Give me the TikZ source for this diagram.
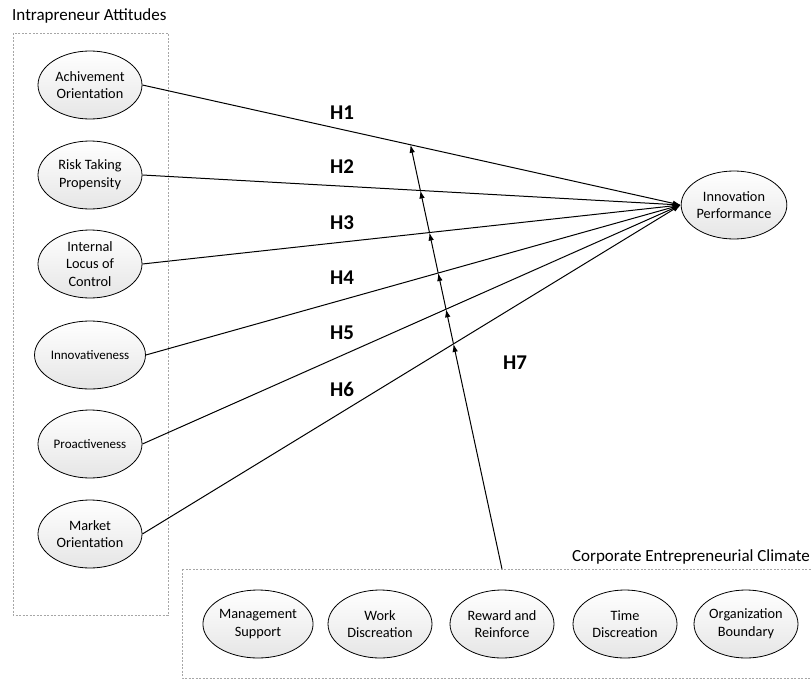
\documentclass[tikz,border=0pt]{standalone}
\usepackage{fontspec}
\setmainfont{Carlito}
\usetikzlibrary{shapes.geometric,arrows.meta}

\begin{document}
\begin{tikzpicture}[x=1pt,y=-1pt,
    var/.style={ellipse,draw,line width=0.8pt,top color=white,bottom color=black!10,
      minimum width=104pt,minimum height=68pt,inner sep=0pt,align=center,
      font=\fontsize{14.3}{17.7}\selectfont},
    small/.style={font=\fontsize{13}{16}\selectfont},
    hyp/.style={-{Latex[length=8pt,width=5.5pt]},line width=1pt},
    grp/.style={draw=black!35,line width=0.5pt,dash pattern=on 2pt off 1.5pt},
    grptitle/.style={inner sep=0pt,font=\fontsize{17}{17}\selectfont},
    hlabel/.style={font=\fontsize{21}{21}\selectfont\bfseries}]
  \useasboundingbox (0,0) rectangle (811,680);
  \draw[grp] (13,33) rectangle (168,615);
  \draw[grp] (182,569) rectangle (830,678);
  \node[grptitle,anchor=west] (ia) at (12,16) {Intrapreneur Attitudes};
  \node[grptitle,anchor=east] (cec) at (810,557) {Corporate Entrepreneurial Climate};

  \node[var] (ao) at (90,85) {Achivement\\Orientation};
  \node[var] (rtp) at (90,175) {Risk Taking\\Propensity};
  \node[var] (ilc) at (90,264) {Internal\\Locus of\\Control};
  \node[var,small] (inv) at (90,355) {Innovativeness};
  \node[var,small] (pro) at (90,444) {Proactiveness};
  \node[var] (mo) at (90,534) {Market\\Orientation};
  \node[var] (ip) at (734,205) {Innovation\\Performance};

  \node[var] (ms) at (258,624) {Management\\Support};
  \node[var] (wd) at (380,624) {Work\\Discreation};
  \node[var] (rr) at (502,624) {Reward and\\Reinforce};
  \node[var] (td) at (625,624) {Time\\Discreation};
  \node[var] (ob) at (746,624) {Organization\\Boundary};

  \draw[hyp] (ao.east) -- (ip.west);
  \draw[hyp] (rtp.east) -- (ip.west);
  \draw[hyp] (ilc.east) -- (ip.west);
  \draw[hyp] (inv.east) -- (ip.west);
  \draw[hyp] (pro.east) -- (ip.west);
  \draw[hyp] (mo.east) -- (ip.west);

  \coordinate (h7s) at (502,569);
  \coordinate (h7e) at (411,147);
  \coordinate (c1) at (intersection of h7s--h7e and ao.east--ip.west);
  \coordinate (c2) at (intersection of h7s--h7e and rtp.east--ip.west);
  \coordinate (c3) at (intersection of h7s--h7e and ilc.east--ip.west);
  \coordinate (c4) at (intersection of h7s--h7e and inv.east--ip.west);
  \coordinate (c5) at (intersection of h7s--h7e and pro.east--ip.west);
  \coordinate (c6) at (intersection of h7s--h7e and mo.east--ip.west);
  \draw[hyp] (h7s) -- (c6);
  \draw[hyp] (c6) -- (c5);
  \draw[hyp] (c5) -- (c4);
  \draw[hyp] (c4) -- (c3);
  \draw[hyp] (c3) -- (c2);
  \draw[hyp] (c2) -- (c1);

  \node[hlabel] (h1) at (342,113) {H1};
  \node[hlabel] (h2) at (342,167) {H2};
  \node[hlabel] (h3) at (342,223) {H3};
  \node[hlabel] (h4) at (342,278) {H4};
  \node[hlabel] (h5) at (342,333) {H5};
  \node[hlabel] (h6) at (342,389) {H6};
  \node[hlabel] (h7) at (515,363) {H7};
\end{tikzpicture}
\end{document}
